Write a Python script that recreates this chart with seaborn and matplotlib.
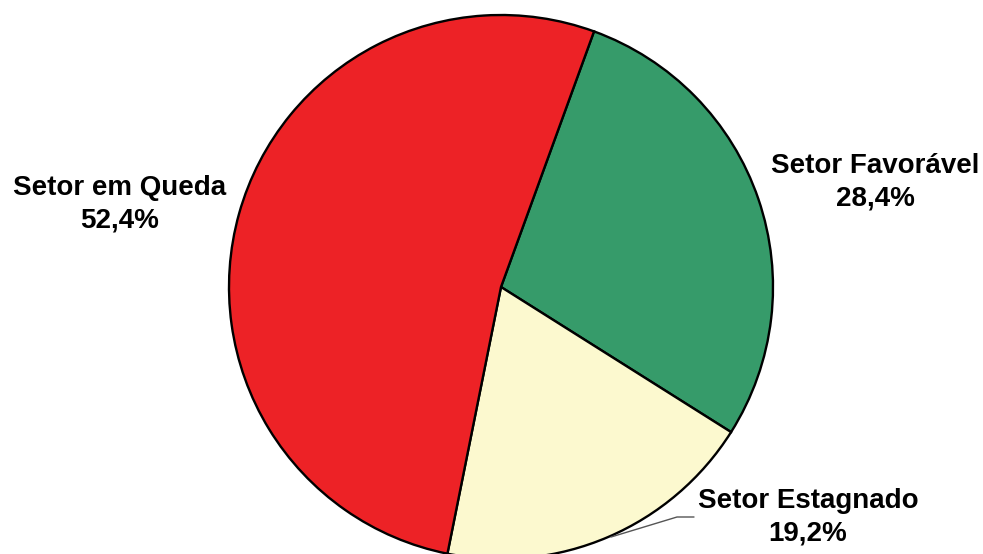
import matplotlib
matplotlib.use("Agg")
import matplotlib.pyplot as plt
import seaborn as sns

labels = ["Setor Favorável", "Setor Estagnado", "Setor em Queda"]
values = [28.4, 19.2, 52.4]
pct_labels = ["28,4%", "19,2%", "52,4%"]
colors = ["#369B6A", "#FCF9CF", "#ED2226"]

sns.set_theme(style="white")
plt.rcParams['font.family'] = ['Liberation Sans', 'DejaVu Sans']

W, H = 983, 554
fig = plt.figure(figsize=(W / 100, H / 100), dpi=100)
ax = fig.add_axes([0, 0, 1, 1])

ax.pie(values, colors=colors, startangle=70, counterclock=False,
       center=(501, H - 287), radius=272,
       wedgeprops=dict(edgecolor="black", linewidth=1.7), frame=True)
ax.set_xlim(0, W)
ax.set_ylim(0, H)
ax.set_aspect("equal")
ax.axis("off")

label_pos = [(875, 182), (808, 517), (120, 204)]
for lab, pct, (x, y) in zip(labels, pct_labels, label_pos):
    ax.text(x, H - y, f"{lab}\n{pct}", ha="center", va="center",
            fontsize=20, fontweight="bold", color="black", linespacing=1.32)

ax.plot([611, 677, 694], [H - 537, H - 517, H - 517], color="#555555", lw=1)

fig.savefig("out.png", dpi=100)
